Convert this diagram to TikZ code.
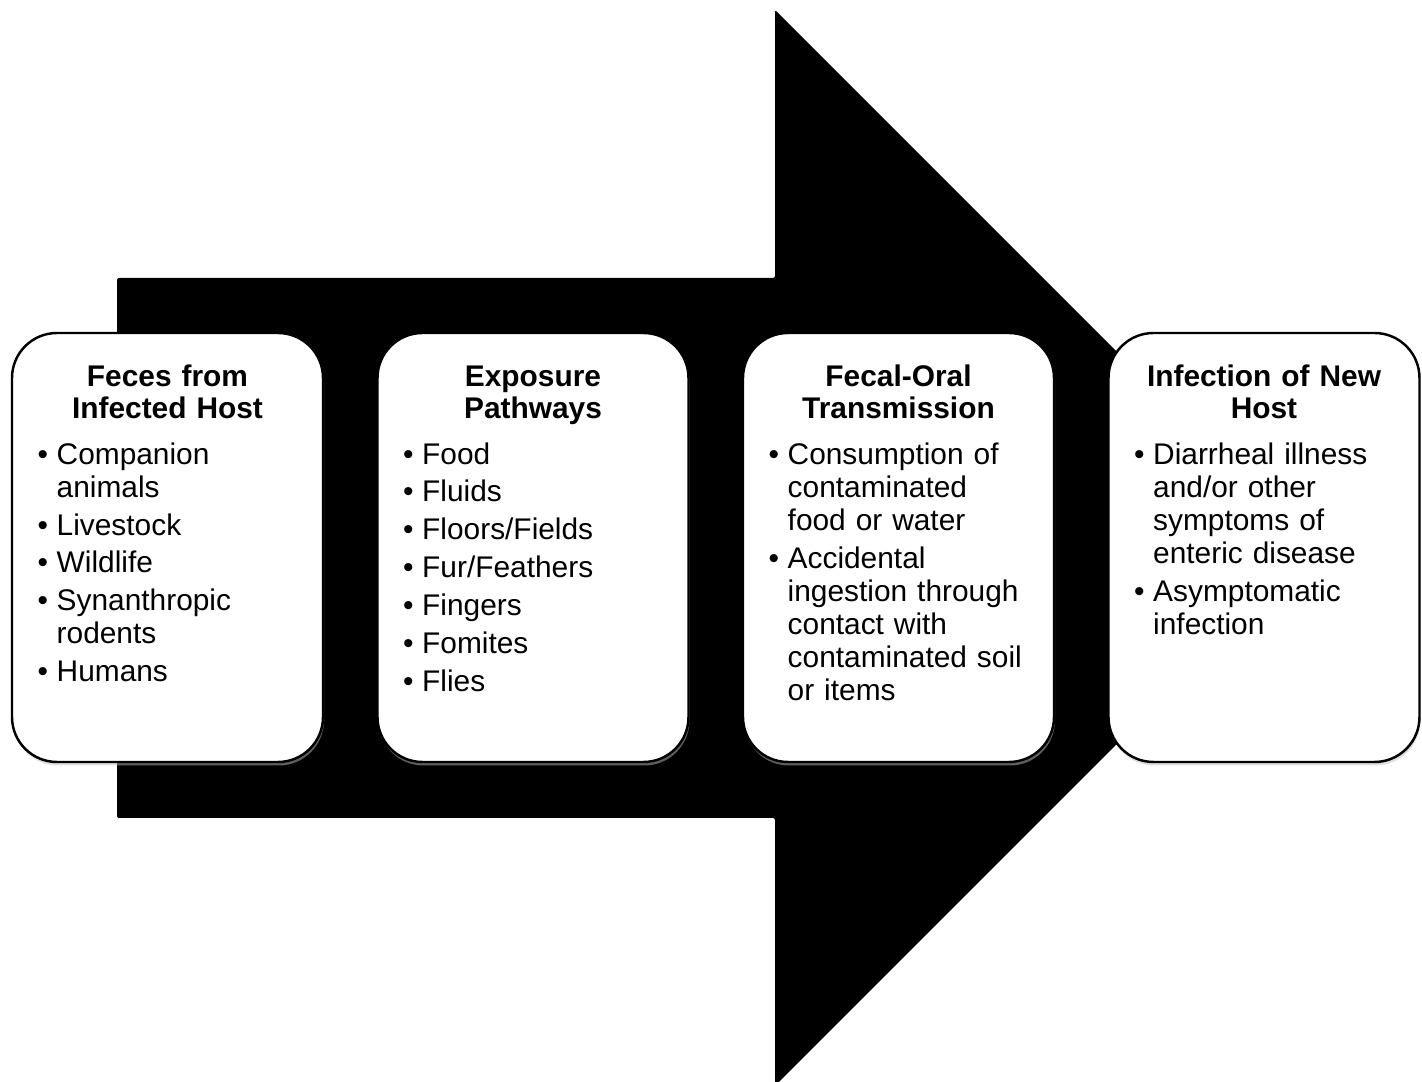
\documentclass[tikz,border=0pt]{standalone}
\usepackage{fontspec}
\setmainfont{Liberation Sans}
\usetikzlibrary{positioning,shadows}

\newenvironment{bullets}{%
  \begin{list}{\textbullet}{%
    \setlength\leftmargin{0.19cm}%
    \setlength\labelwidth{0.15cm}%
    \setlength\labelsep{0.085cm}%
    \setlength\itemsep{1.4pt}%
    \setlength\parsep{0pt}%
    \setlength\topsep{0pt}%
    \setlength\partopsep{0pt}}}%
  {\end{list}}

\begin{document}
\begin{tikzpicture}[
  stage/.style={draw, line width=0.7pt, rounded corners=0.45cm, fill=white,
                minimum width=3.11cm, minimum height=4.29cm, inner sep=0pt,
                outer sep=0pt,
                drop shadow={shadow xshift=0.01cm, shadow yshift=-0.035cm,
                             fill=black!25, opacity=0.5}},
  head/.style={text width=3.0cm, align=center, anchor=base, inner sep=0pt,
               font=\fontsize{8.5pt}{9.1pt}\selectfont\bfseries},
  items/.style={text width=2.8cm, align=left, anchor=base west, inner sep=0pt,
                font=\fontsize{8.5pt}{9.4pt}\selectfont}]
  \useasboundingbox (0,0) rectangle (14.22,10.82);
  \clip (0,0) rectangle (14.22,10.82);
  % big arrow behind the stages
  \fill[black, rounded corners=0.02cm]
    (1.17,2.64) -- (1.17,8.04) -- (7.75,8.04) -- (7.75,10.72)
    -- (13.13,5.34) -- (7.75,-0.04) -- (7.75,2.64) -- cycle;
  % stages
  \node[stage] (feces) at (1.675,5.345) {};
  \node[stage, right=0.545cm of feces]    (exposure) {};
  \node[stage, right=0.545cm of exposure] (fecoral)  {};
  \node[stage, right=0.545cm of fecoral]  (infect)   {};
  % titles
  \node[head] (feces-t)    at ([yshift=-0.54cm]feces.north)    {Feces from\\Infected Host};
  \node[head] (exposure-t) at ([yshift=-0.54cm]exposure.north) {Exposure\\Pathways};
  \node[head] (fecoral-t)  at ([yshift=-0.54cm]fecoral.north)  {Fecal-Oral\\Transmission};
  \node[head] (infect-t)   at ([yshift=-0.54cm]infect.north)   {Infection of New\\Host};
  % bullet lists
  \node[items] (feces-l) at ([xshift=0.25cm,yshift=-0.98cm]feces.north west) {%
    \begin{bullets}
      \item Companion\newline animals
      \item Livestock
      \item Wildlife
      \item Synanthropic\newline rodents
      \item Humans
    \end{bullets}};
  \node[items] (exposure-l) at ([xshift=0.25cm,yshift=-0.98cm]exposure.north west) {%
    \begin{bullets}
      \item Food
      \item Fluids
      \item Floors/Fields
      \item Fur/Feathers
      \item Fingers
      \item Fomites
      \item Flies
    \end{bullets}};
  \node[items] (fecoral-l) at ([xshift=0.25cm,yshift=-0.98cm]fecoral.north west) {%
    \begin{bullets}
      \item Consumption of\newline contaminated\newline food or water
      \item Accidental\newline ingestion through\newline contact with\newline contaminated soil\newline or items
    \end{bullets}};
  \node[items] (infect-l) at ([xshift=0.25cm,yshift=-0.98cm]infect.north west) {%
    \begin{bullets}
      \item Diarrheal illness\newline and/or other\newline symptoms of\newline enteric disease
      \item Asymptomatic\newline infection
    \end{bullets}};
\end{tikzpicture}
\end{document}
